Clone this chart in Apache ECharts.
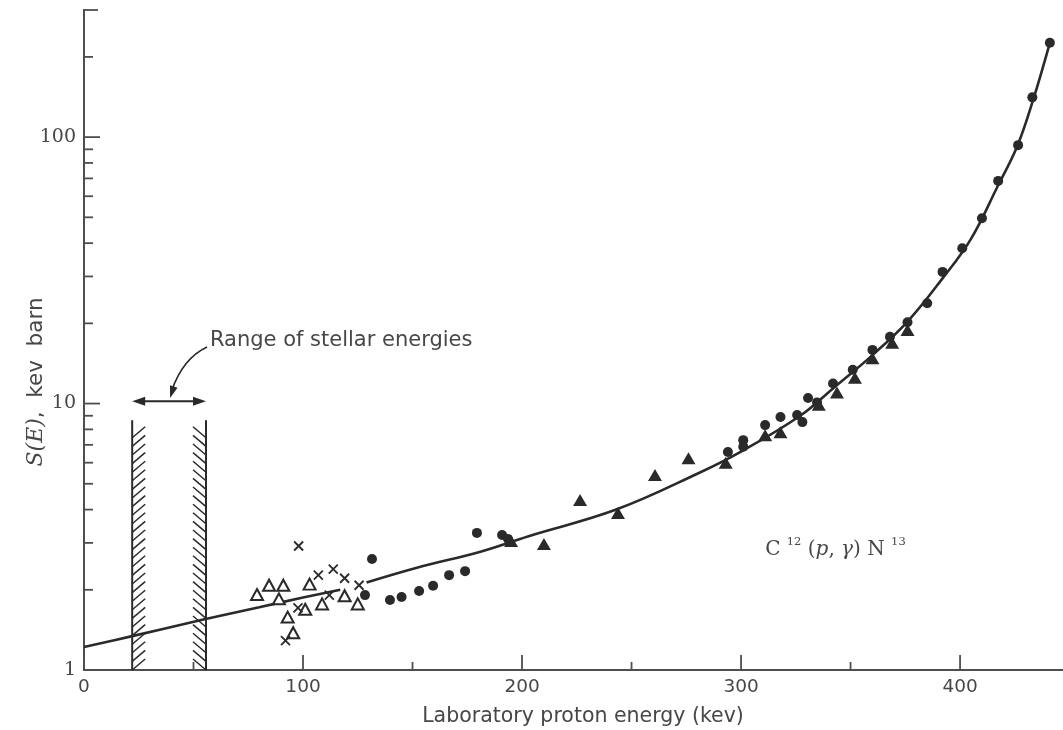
<!DOCTYPE html>
<html>
<head>
<meta charset="utf-8">
<title>C12(p,γ)N13 astrophysical S-factor</title>
<script src="https://cdn.jsdelivr.net/npm/echarts@6/dist/echarts.min.js"></script>
<style>
  html, body { margin: 0; padding: 0; background: #ffffff; }
  #chart { width: 1063px; height: 730px; }
</style>
</head>
<body>
<div id="chart"></div>
<script>
// ---- axis ticks and labels ----
const xTickLabels = [0, 100, 200, 300, 400];
const xMajorTicks = [100, 200, 300, 400];
const xMinorTicks = [50, 150, 250, 350];
const yTickLabels = [1, 10, 100];
const yMajorTicks = [10, 100, 300];
const yMinorTicks = [2, 3, 4, 5, 6, 7, 8, 9, 20, 30, 40, 50, 60, 70, 80, 90, 200];

// ---- fitted S(E) curve (two pieces, broken where the points crowd it) ----
const fitCurveLow = [
  [0, 1.22], [22, 1.34], [55, 1.55], [80, 1.72], [100, 1.87], [117, 2.0]
];
const fitCurveHigh = [
  [129, 2.13], [152, 2.42], [181, 2.78], [203, 3.18], [243, 4.0], [281, 5.5],
  [300, 6.6], [327, 9.0], [342, 11.4], [360, 15.2], [376, 20.3], [392, 29.5],
  [405, 41.5], [417, 65], [426, 92], [433, 135], [441, 226]
];

// ---- measurements (lab proton energy in kev, S in kev barn) ----
const openTriangles = [
  [79, 1.92], [84.5, 2.08], [91, 2.08], [89, 1.85], [93, 1.58], [95.5, 1.38],
  [101, 1.69], [103, 2.1], [108.7, 1.77], [119, 1.9], [125, 1.77]
];
const crosses = [
  [98, 2.92], [107, 2.27], [113.8, 2.39], [119, 2.21], [125.6, 2.08],
  [92, 1.29], [97.7, 1.71], [112, 1.91]
];
const filledCircles = [
  [128.3, 1.91], [131.5, 2.61], [139.7, 1.83], [145, 1.88], [153, 1.98],
  [159.4, 2.07], [166.7, 2.27], [174, 2.35], [179.4, 3.27], [190.9, 3.21],
  [193.6, 3.1],
  [294, 6.58], [301, 7.29], [301, 6.88], [311, 8.3], [318, 8.9], [325.6, 9.06],
  [328, 8.52], [330.6, 10.5], [334.7, 10.1], [342, 11.9], [351, 13.4],
  [360, 15.9], [368, 17.8], [376, 20.2], [385, 23.8], [392, 31.2], [401, 38.3],
  [410, 49.6], [417.4, 68.5], [426.5, 93.3], [433, 141], [441, 226]
];
const filledTriangles = [
  [195, 3.05], [210, 2.97], [226.5, 4.35], [243.8, 3.88], [260.7, 5.39],
  [276, 6.24], [293, 6.0], [311, 7.6], [318, 7.8], [335.5, 9.9], [343.8, 11.0],
  [352, 12.5], [360, 14.8], [369, 16.9], [376, 18.9]
];

// ---- stellar energy window ----
const stellarRange = [22, 55.7];        // kev, edges of the hatched bands
const stellarBandTop = 8.66;            // S value where the band lines stop
const stellarArrowLevel = 10.2;
const calloutFrom = [56.2, 16.3];
const calloutBend = [45.2, 14.8];
const calloutTo = [39.3, 10.5];
const calloutText = 'Range of stellar energies';
const calloutTextAt = [57.5, 17.3];
const reactionTextAt = [311, 2.87];

const INK = '#2a2a2a';
const TEXT = '#474747';
const AXIS = '#4e4e4e';

const chart = echarts.init(document.getElementById('chart'), null, { renderer: 'canvas' });

function near(list, v) {
  return list.some(t => Math.abs(t - v) < 1e-6 * Math.max(1, t));
}

function line(x1, y1, x2, y2, w, color) {
  return { type: 'line', shape: { x1, y1, x2, y2 }, style: { stroke: color || INK, lineWidth: w } };
}

function arrowHead(tip, from, len, half) {
  const dx = tip[0] - from[0], dy = tip[1] - from[1];
  const d = Math.hypot(dx, dy) || 1;
  const ux = dx / d, uy = dy / d;
  const bx = tip[0] - ux * len, by = tip[1] - uy * len;
  return {
    type: 'polygon',
    shape: { points: [tip, [bx - uy * half, by + ux * half], [bx + uy * half, by - ux * half]] },
    style: { fill: INK }
  };
}

// tick marks drawn inward from the axis lines
const xTickData = xMajorTicks.map(v => [v, 1, 15]).concat(xMinorTicks.map(v => [v, 1, 8]));
const yTickData = yMajorTicks.map(v => [0, v, v === 300 ? 15 : 17]).concat(yMinorTicks.map(v => [0, v, 10]));

const option = {
  backgroundColor: '#ffffff',
  animation: false,
  grid: { left: 84, right: 0, top: 10, bottom: 60, containLabel: false, outerBoundsMode: 'none' },
  xAxis: {
    type: 'value',
    min: 0, max: 447, interval: 100,
    axisLine: { show: true, lineStyle: { color: AXIS, width: 2 } },
    axisTick: { show: false },
    splitLine: { show: false },
    axisLabel: {
      margin: 8,
      color: TEXT,
      fontFamily: 'DejaVu Sans',
      fontSize: 18.5,
      formatter: v => (near(xTickLabels, v) ? String(v) : '')
    }
  },
  yAxis: {
    type: 'log', logBase: 10,
    min: 1, max: 300,
    axisLine: { show: true, lineStyle: { color: AXIS, width: 2 } },
    axisTick: { show: false },
    splitLine: { show: false },
    axisLabel: {
      margin: 8,
      color: TEXT,
      fontFamily: 'DejaVu Serif',
      fontSize: 19,
      formatter: v => (near(yTickLabels, v) ? String(Math.round(v)) : '')
    }
  },
  graphic: [
    {
      type: 'text', x: 583, y: 717,
      style: {
        text: 'Laboratory proton energy (kev)',
        font: '20.5px "DejaVu Sans"', fill: TEXT,
        align: 'center', verticalAlign: 'middle'
      }
    },
    {
      type: 'text', x: 36, y: 382, rotation: Math.PI / 2,
      style: {
        text: '{i|S(E)}{n|,  kev  barn}',
        fill: TEXT, align: 'center', verticalAlign: 'middle',
        rich: {
          i: { font: 'italic 22px "DejaVu Serif"', fill: TEXT },
          n: { font: '21.5px "DejaVu Sans"', fill: TEXT }
        }
      }
    }
  ],
  series: [
    {
      name: 'x ticks', type: 'custom', silent: true, z: 5,
      data: xTickData,
      renderItem: (params, api) => {
        const p = api.coord([api.value(0), api.value(1)]);
        return line(p[0], p[1], p[0], p[1] - api.value(2), 1.8, AXIS);
      }
    },
    {
      name: 'y ticks', type: 'custom', silent: true, z: 5,
      data: yTickData,
      renderItem: (params, api) => {
        const p = api.coord([api.value(0), api.value(1)]);
        return line(p[0] - 1, p[1], p[0] - 1 + api.value(2), p[1], 1.8, AXIS);
      }
    },
    {
      name: 'stellar window', type: 'custom', silent: true, z: 3,
      data: [[stellarRange[0], stellarBandTop, 1], [stellarRange[1], stellarBandTop, -1]],
      renderItem: (params, api) => {
        const x = api.value(0), top = api.value(1), side = api.value(2);
        const pTop = api.coord([x, top]);
        const pBot = api.coord([x, 1]);
        const kids = [line(pTop[0], pTop[1], pBot[0], pBot[1], 2)];
        const w = 13, h = 11, step = 8.6;
        for (let y = pBot[1]; y - h >= pTop[1] - 1; y -= step) {
          kids.push(line(pBot[0], y, pBot[0] + side * w, y - h, 1.5));
        }
        return { type: 'group', children: kids };
      }
    },
    {
      name: 'annotations', type: 'custom', silent: true, z: 6,
      data: [[0, 1]],
      renderItem: (params, api) => {
        const a = api.coord([stellarRange[0], stellarArrowLevel]);
        const b = api.coord([stellarRange[1], stellarArrowLevel]);
        const s = api.coord(calloutFrom);
        const c = api.coord(calloutBend);
        const e = api.coord(calloutTo);
        const t = api.coord(calloutTextAt);
        const r = api.coord(reactionTextAt);
        return {
          type: 'group',
          children: [
            line(a[0] + 6, a[1], b[0] - 6, b[1], 1.8),
            arrowHead(a, [a[0] + 10, a[1]], 13, 4.5),
            arrowHead(b, [b[0] - 10, b[1]], 13, 4.5),
            {
              type: 'bezierCurve',
              shape: { x1: s[0], y1: s[1], cpx1: c[0], cpy1: c[1], x2: e[0] + 1.5, y2: e[1] - 7 },
              style: { stroke: INK, lineWidth: 1.6, fill: null }
            },
            arrowHead(e, c, 12, 4),
            {
              type: 'text', x: t[0], y: t[1],
              style: {
                text: calloutText, font: '21px "DejaVu Sans"', fill: TEXT,
                align: 'left', verticalAlign: 'middle'
              }
            },
            {
              type: 'text', x: r[0], y: r[1],
              style: {
                text: '{n|C }{s|12}{n| (}{i|p}{n|, }{i|γ}{n|) N }{s|13}',
                align: 'left', verticalAlign: 'middle', fill: TEXT,
                rich: {
                  n: { font: '20px "DejaVu Serif"', fill: TEXT, lineHeight: 24, verticalAlign: 'bottom' },
                  i: { font: 'italic 20px "DejaVu Serif"', fill: TEXT, lineHeight: 24, verticalAlign: 'bottom' },
                  s: { font: '11.5px "DejaVu Serif"', fill: TEXT, lineHeight: 24, verticalAlign: 'top' }
                }
              }
            }
          ]
        };
      }
    },
    {
      name: 'fit', type: 'line', data: fitCurveLow, smooth: 0.4,
      symbol: 'none', silent: true, z: 2,
      lineStyle: { color: INK, width: 2.6 }
    },
    {
      name: 'fit', type: 'line', data: fitCurveHigh, smooth: 0.4,
      symbol: 'none', silent: true, z: 2,
      lineStyle: { color: INK, width: 2.6 }
    },
    {
      name: 'open triangles', type: 'scatter', data: openTriangles, z: 4,
      symbol: 'triangle', symbolSize: [12, 11],
      itemStyle: { color: '#ffffff', borderColor: INK, borderWidth: 2, opacity: 1 }
    },
    {
      name: 'crosses', type: 'scatter', data: crosses, z: 4,
      symbol: 'path://M0,0L10,10M0,10L10,0', symbolSize: 9,
      itemStyle: { color: 'none', borderColor: INK, borderWidth: 1.8, opacity: 1 }
    },
    {
      name: 'filled circles', type: 'scatter', data: filledCircles, z: 4,
      symbol: 'circle', symbolSize: 10,
      itemStyle: { color: INK, opacity: 1 }
    },
    {
      name: 'filled triangles', type: 'scatter', data: filledTriangles, z: 4,
      symbol: 'triangle', symbolSize: [14, 12],
      itemStyle: { color: INK, opacity: 1 }
    }
  ]
};

chart.setOption(option);
</script>
</body>
</html>
